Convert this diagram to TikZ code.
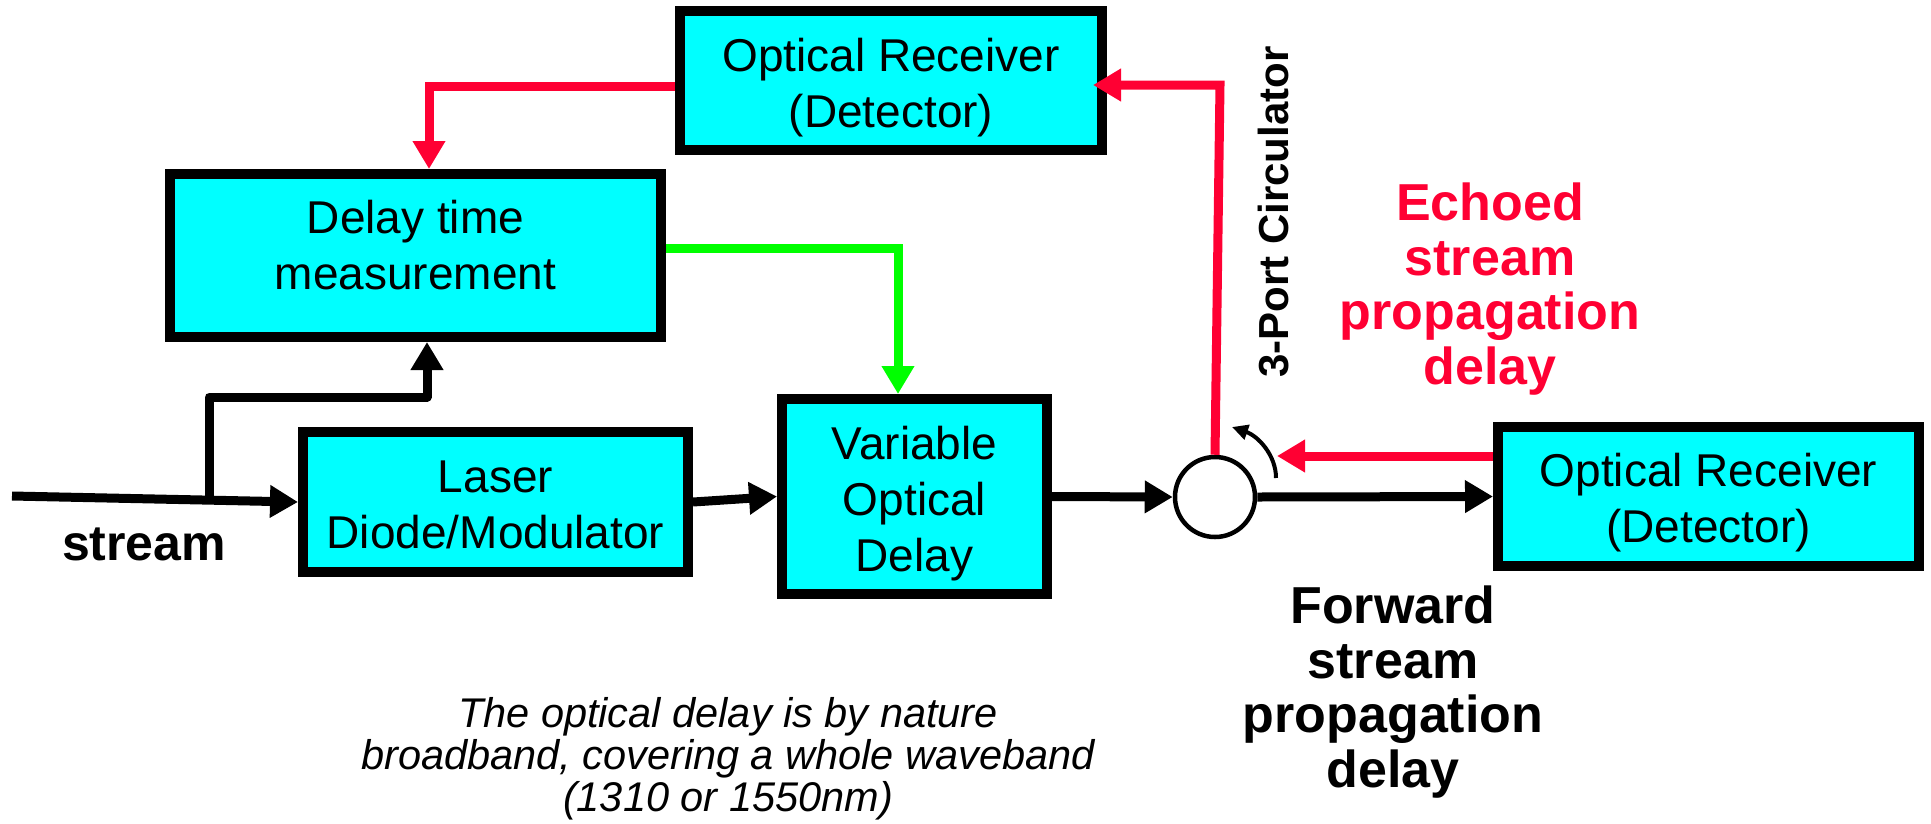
\documentclass[tikz,border=0pt]{standalone}
\usepackage{fontspec}
\setmainfont{Liberation Sans}
\usetikzlibrary{arrows.meta}
\definecolor{boxcyan}{RGB}{0,255,255}
\definecolor{echored}{RGB}{255,0,51}
\definecolor{ctrlgreen}{RGB}{0,255,0}
\begin{document}
\begin{tikzpicture}[x=1pt,y=-1pt,
  blk/.style={draw=black, line width=10pt, fill=boxcyan, inner sep=0pt},
  blktxt/.style={inner sep=0pt, align=center, font=\fontsize{46}{56}\selectfont},
  sig/.style={line width=9pt, -{Triangle[length=28pt,width=31pt]}},
  boldlbl/.style={font=\bfseries\fontsize{52}{54.5}\selectfont, align=center, inner sep=0pt}]
\useasboundingbox (0,0) rectangle (1931,823);

% boxes
\node[blk, minimum width=422pt, minimum height=139pt] (rtop) at (891,80.5) {};
\node[blk, minimum width=491pt, minimum height=163pt] (delay) at (415.5,255.5) {};
\node[blk, minimum width=385pt, minimum height=140pt] (laser) at (495.5,502) {};
\node[blk, minimum width=265pt, minimum height=195pt] (vod) at (914.5,496.5) {};
\node[blk, minimum width=421pt, minimum height=139pt] (rright) at (1708.5,496.5) {};
\node[circle, draw=black, line width=4.5pt, fill=white, minimum size=80pt, inner sep=0pt] (circ) at (1215,497) {};

% box texts
\node[blktxt] (rtopT) at ([yshift=-7pt]rtop.center) {Optical Receiver\\(Detector)};
\node[blktxt] (delayT) at ([yshift=10pt]delay.center) {Delay time\\measurement};
\node[blktxt] (laserT) at ([yshift=-3pt]laser.center) {Laser\\Diode/Modulator};
\node[blktxt] (vodT) at ([yshift=-7pt]vod.center) {Variable\\Optical\\Delay};
\node[blktxt] (rrightT) at ([yshift=-6.5pt]rright.center) {Optical Receiver\\(Detector)};

% labels
\node[font=\bfseries\fontsize{50}{56}\selectfont, anchor=base, inner sep=0pt] (lstream) at (144,560) {stream};
\node[rotate=90, font=\bfseries\fontsize{42}{48}\selectfont, inner sep=0pt] (lcirc) at (1274,212) {3-Port Circulator};
\node[boldlbl, text=echored, anchor=north] (lecho) at (1490,183) {Echoed\\stream\\propagation\\delay};
\node[boldlbl, anchor=north] (lfwd) at (1393,586) {Forward\\stream\\propagation\\delay};
\node[font=\itshape\fontsize{41.5}{42}\selectfont, align=center, anchor=north, inner sep=0pt] (lnote) at (728,697)
  {The optical delay is by nature\\broadband, covering a whole waveband\\(1310 or 1550nm)};

% coordinates
\coordinate (inStart) at (12,496);
\coordinate (branch) at (209,497);
\coordinate (bTop) at (209,397);
\coordinate (bRight) at (427,397);
\coordinate (echoTip) at (1277,456);
\coordinate (redCorner) at (1220,85);
\coordinate (rtopIn) at ([xshift=-14pt]rtop.east);
\coordinate (redL) at (429,86);
\coordinate (grn) at (898,248);
\coordinate (caS) at (1276,478);
\coordinate (caE) at (1232,427);

% black signal path
\draw[sig] (inStart) -- (laser.west);
\draw[sig, line join=round] (branch) -- (bTop) -- (bRight) -- (bRight |- delay.south);
\draw[sig] (laser.east) -- (vod.west);
\draw[sig] (vod.east) -- (circ.west);
\draw[sig] (circ.east) -- (rright.west);

% red echo path
\draw[sig, echored] (rright.west |- echoTip) -- (echoTip);
\draw[sig, echored] (circ.north) -- (redCorner) -- (rtopIn |- redCorner);
\draw[sig, echored] (rtop.west |- redL) -- (redL) -- (redL |- delay.north);

% green control
\draw[sig, ctrlgreen] (delay.east |- grn) -- (grn) -- (grn |- vod.north);

% circulator rotation arrow
\draw[line width=4pt, -{Triangle[length=16pt,width=15pt]}] (caS) .. controls (1276,455) and (1258,436) .. (caE);
\end{tikzpicture}
\end{document}
